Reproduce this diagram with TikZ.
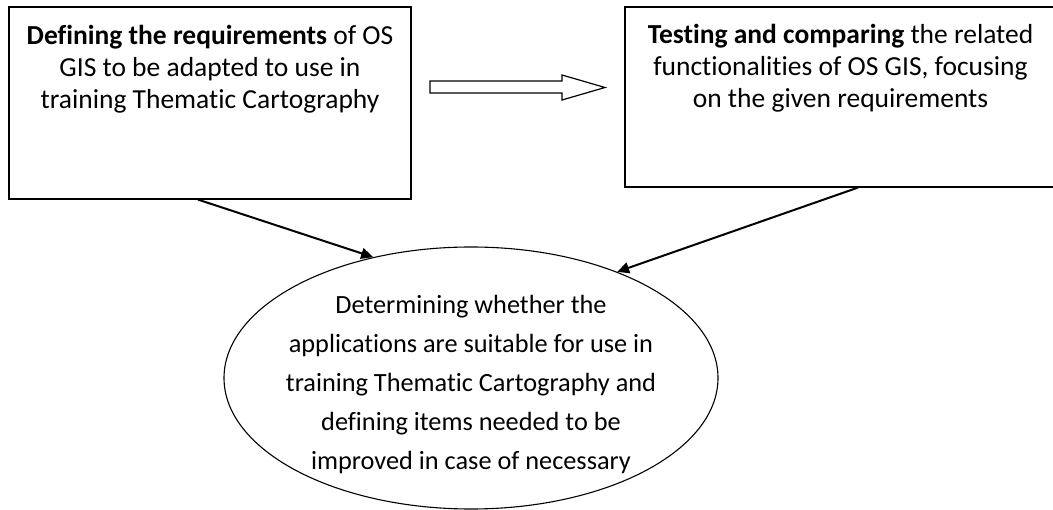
\documentclass[tikz,border=0pt]{standalone}
\usepackage{fontspec}
\setmainfont{Carlito}[Ligatures=NoCommon]
\usepackage{tikz}
\usetikzlibrary{arrows.meta,positioning,shapes.geometric}
\tikzset{
  card/.style={draw, line width=1.2pt, inner sep=0pt},
  txt/.style={align=center, inner sep=0pt, font=\fontsize{27.5}{32}\selectfont},
  oval/.style={draw, ellipse, line width=1.1pt, inner sep=0pt},
  ovaltxt/.style={align=center, inner sep=0pt, font=\fontsize{26.3}{39}\selectfont},
  pre/.style={-{Triangle[length=12pt,width=11pt]}, line width=2pt},
  hollow/.style={draw, line width=1.2pt, line join=miter},
}

\begin{document}
\begin{tikzpicture}[x=1pt,y=-1pt]
\useasboundingbox (0,0) rectangle (1053,510);
\node[card, minimum width=402pt, minimum height=192pt] (lbox) at (210,103) {};
\node[txt, below=19pt of lbox.north] (ltext) {\textbf{Defining the requirements} of OS\\GIS to be adapted to use in\\training Thematic Cartography};
\node[card, minimum width=431pt, minimum height=180pt] (rbox) at (840.5,97) {};
\node[txt, below=18pt of rbox.north] (rtext) {\textbf{Testing and comparing} the related\\functionalities of OS GIS, focusing\\on the given requirements};
% block arrow between the two steps
\draw[hollow] (430,81) -- (562,81) -- (562,75) -- (605,87.5) -- (562,100) -- (562,93) -- (430,93) -- cycle;
\node[oval, minimum width=494pt, minimum height=262pt] (goal) at (471,378) {};
\node[ovaltxt] (gtext) at (471,384) {Determining whether the\\applications are suitable for use in\\training Thematic Cartography and\\defining items needed to be\\improved in case of necessary};
\draw[pre] ([xshift=-12pt]lbox.south) -- (goal.129);
\draw[pre] ([xshift=17.5pt]rbox.south) -- (goal.36);
\end{tikzpicture}
\end{document}
